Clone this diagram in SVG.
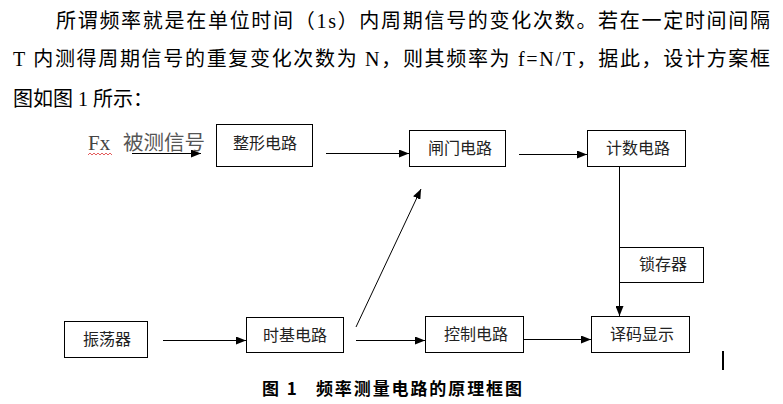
<svg xmlns="http://www.w3.org/2000/svg" width="783" height="404" viewBox="0 0 783 404">
<style>
.para{font-family:"Liberation Serif","Noto Sans CJK SC",serif;font-size:20px;fill:#000}
.box{fill:#fff;stroke:#000;stroke-width:1}
.lbl{font-family:"Noto Sans CJK SC",sans-serif;font-size:16px;fill:#222;text-anchor:middle}
.conn{stroke:#000;stroke-width:1;fill:none}
.cap{font-family:"Noto Sans CJK SC",sans-serif;font-size:17px;font-weight:bold;fill:#000}
</style>
<defs>
<marker id="ah" markerUnits="userSpaceOnUse" markerWidth="10" markerHeight="8" refX="10" refY="4" orient="auto">
<path d="M0,0 L10,4 L0,8 z" fill="#000"/>
</marker>
</defs>
<rect width="783" height="404" fill="#fff"/>
<g id="paragraph">
<text class="para" x="56" y="28" textLength="714" lengthAdjust="spacing">所谓频率就是在单位时间（1s）内周期信号的变化次数。若在一定时间间隔</text>
<text class="para" x="13" y="66" textLength="757" lengthAdjust="spacing">T 内测得周期信号的重复变化次数为 N，则其频率为 f=N/T，据此，设计方案框</text>
<text class="para" x="13" y="106">图如图 1 所示：</text>
</g>
<g id="input">
<text x="88" y="150" style="font-family:'Liberation Serif',serif;font-size:21px;fill:#444">Fx</text>
<path d="M88,155 l2,-2 l2,2 l2,-2 l2,2 l2,-2 l2,2 l2,-2 l2,2 l2,-2 l2,2 l2,-2 l2,2" fill="none" stroke="#d33" stroke-width="0.8"/>
<text x="123" y="150" textLength="82" lengthAdjust="spacingAndGlyphs" style="font-family:'Noto Sans CJK SC',sans-serif;font-size:20px;fill:#555">被测信号</text>
</g>
<g id="n_shape"><rect class="box" x="216.5" y="124.5" width="96" height="42"/><text class="lbl" x="265" y="149">整形电路</text></g>
<g id="n_gate"><rect class="box" x="409.5" y="130.5" width="96" height="36"/><text class="lbl" x="460" y="154">闸门电路</text></g>
<g id="n_count"><rect class="box" x="587.5" y="130.5" width="98" height="36"/><text class="lbl" x="638" y="154">计数电路</text></g>
<g id="n_osc"><rect class="box" x="64.5" y="321.5" width="83" height="36"/><text class="lbl" x="107" y="345">振荡器</text></g>
<g id="n_timebase"><rect class="box" x="246.5" y="317.5" width="97" height="35"/><text class="lbl" x="295" y="341">时基电路</text></g>
<g id="n_ctrl"><rect class="box" x="425.5" y="316.5" width="98" height="36"/><text class="lbl" x="476" y="340">控制电路</text></g>
<g id="n_decode"><rect class="box" x="591.5" y="316.5" width="98" height="36"/><text class="lbl" x="642" y="340">译码显示</text></g>
<g id="n_latch"><rect class="box" x="619.5" y="247.5" width="84" height="35"/><text class="lbl" x="663" y="270">锁存器</text></g>
<g id="connectors">
<line class="conn" x1="132" y1="153.5" x2="201" y2="153.5" marker-end="url(#ah)"/>
<line class="conn" x1="326" y1="153.5" x2="409" y2="153.5" marker-end="url(#ah)"/>
<line class="conn" x1="519" y1="154.5" x2="587" y2="154.5" marker-end="url(#ah)"/>
<line class="conn" x1="163" y1="340.5" x2="246" y2="340.5" marker-end="url(#ah)"/>
<line class="conn" x1="356" y1="340.5" x2="425" y2="340.5" marker-end="url(#ah)"/>
<line class="conn" x1="523" y1="339.5" x2="591" y2="339.5" marker-end="url(#ah)"/>
<line class="conn" x1="356" y1="327" x2="421" y2="189" marker-end="url(#ah)"/>
<line class="conn" x1="619.5" y1="166" x2="619.5" y2="316" marker-end="url(#ah)"/>
</g>
<rect x="722" y="351" width="2" height="19" fill="#000"/>
<text class="cap" x="262" y="395" textLength="260" lengthAdjust="spacing" xml:space="preserve">图 1   频率测量电路的原理框图</text>
</svg>
